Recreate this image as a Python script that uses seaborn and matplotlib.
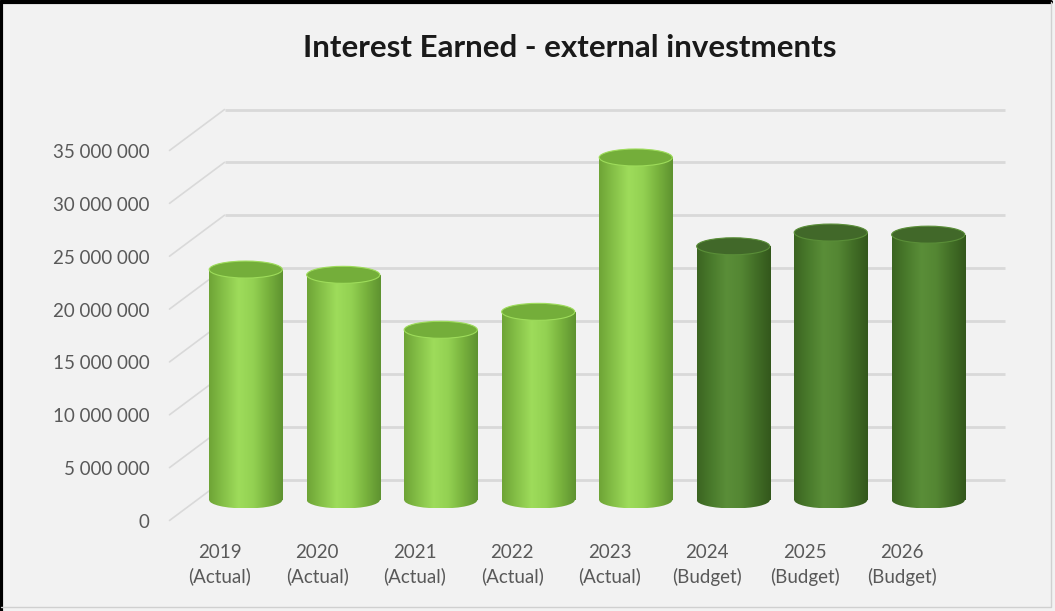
import numpy as np
import pandas as pd
import matplotlib
matplotlib.use("Agg")
import matplotlib.pyplot as plt
import seaborn as sns
from matplotlib.patches import Ellipse
from matplotlib.colors import LinearSegmentedColormap
from matplotlib.transforms import ScaledTranslation
from matplotlib.lines import Line2D

# ---- data ----
years = ["2019", "2020", "2021", "2022", "2023", "2024", "2025", "2026"]
kinds = ["Actual", "Actual", "Actual", "Actual", "Actual", "Budget", "Budget", "Budget"]
interest = [21_800_000, 21_300_000, 16_100_000, 17_800_000, 32_400_000,
            24_000_000, 25_300_000, 25_100_000]
y_ticks = [0, 5_000_000, 10_000_000, 15_000_000, 20_000_000,
           25_000_000, 30_000_000, 35_000_000]
title = "Interest Earned - external investments"

df = pd.DataFrame({"year": years, "kind": kinds, "value": interest})
df["label"] = df["year"] + "\n(" + df["kind"] + ")"

# ---- style ----
sns.set_theme(style="white")
plt.rcParams["font.family"] = ["Lato", "DejaVu Sans"]

BG = "#f2f2f2"
GRID = "#d9d9d9"
TXT = "#595959"

body_colors = {
    "Actual": ["#6ea436", "#86c148", "#9edc5b", "#93d152", "#78b23d", "#5e9230"],
    "Budget": ["#3b6421", "#4a7b2c", "#5a8e38", "#548633", "#426e26", "#33571c"],
}
top_colors = {"Actual": "#74ae3a", "Budget": "#416829"}
palette = {"Actual": "#92d050", "Budget": "#548235"}

W, H, DPI = 1055, 611, 100
fig = plt.figure(figsize=(W / DPI, H / DPI), dpi=DPI)
fig.patch.set_facecolor(BG)

# plot plane at the middle depth of the 3-D box
left_px, right_px, zero_px, top_px = 197, 977, 500, 130
pad_px = 16  # room below zero for the rounded bar bottoms
px_per_unit = (zero_px - top_px) / y_ticks[-1]
ymin = -pad_px / px_per_unit

ax = fig.add_axes([left_px / W, (H - zero_px - pad_px) / H,
                   (right_px - left_px) / W, (zero_px + pad_px - top_px) / H])
ax.set_facecolor("none")

sns.barplot(data=df, x="label", y="value", hue="kind", palette=palette,
            dodge=False, width=0.75, saturation=1, legend=False, ax=ax, zorder=3)

for s in ax.spines.values():
    s.set_visible(False)
ax.tick_params(left=False, bottom=False, labelleft=False, labelbottom=False)
ax.set_xlabel("")
ax.set_ylabel("")

# depth offsets for the back wall / front edge of the 3-D box
dx_px, dy_px = 27.5, 20.5
back = ScaledTranslation(dx_px / DPI, dy_px / DPI, fig.dpi_scale_trans)
front = ScaledTranslation(-dx_px / DPI, -dy_px / DPI, fig.dpi_scale_trans)
lab_off = ScaledTranslation(-(dx_px + 20) / DPI, -(dy_px + 2) / DPI,
                            fig.dpi_scale_trans)
ytrans = ax.get_yaxis_transform()


def finish_limits():
    ax.set_xlim(-0.5, len(years) - 0.5)
    ax.set_ylim(ymin, y_ticks[-1])


finish_limits()

for v in y_ticks:
    # gridline on the back wall
    ax.plot([0, 1], [v, v], transform=ytrans + back, color=GRID, lw=2.0,
            zorder=0, solid_capstyle="butt", clip_on=False)
    # side-wall diagonal from the front edge to the back wall
    ax.plot([0, 0], [v, v], transform=ytrans + front, lw=0, clip_on=False)
    p_front = (ytrans + front).transform((0, v))
    p_back = (ytrans + back).transform((0, v))
    fig.add_artist(Line2D([p_front[0] / W, p_back[0] / W],
                          [p_front[1] / H, p_back[1] / H],
                          transform=fig.transFigure, color=GRID, lw=1.2,
                          zorder=0))
    # value label at the front edge
    ax.text(0, v, f"{v:,}".replace(",", " "), transform=ytrans + lab_off,
            ha="right", va="center", fontsize=13.5, color=TXT, clip_on=False)

# category labels at the front edge
cat_off = ScaledTranslation(-26 / DPI, -44 / DPI, fig.dpi_scale_trans)
for i, lab in enumerate(df["label"]):
    ax.text(i, 0, lab, transform=ax.transData + cat_off, ha="center", va="top",
            fontsize=13.5, color=TXT, linespacing=1.45, clip_on=False)

# ellipse height of the cylinder caps, in data units
cap_h = 17 / px_per_unit

# turn each bar into a shaded cylinder
bars = [p for p in ax.patches if p.get_height() > 0]
grad = np.linspace(0, 1, 256).reshape(1, -1)
for bar, kind in zip(bars, df["kind"]):
    x0 = bar.get_x()
    w = bar.get_width()
    h = bar.get_height()
    cx = x0 + w / 2
    cmap = LinearSegmentedColormap.from_list(kind, body_colors[kind])

    bar.set_facecolor("none")
    bar.set_edgecolor("none")

    # body
    im = ax.imshow(grad, cmap=cmap, aspect="auto",
                   extent=(x0, x0 + w, 0, h), zorder=3, interpolation="bicubic")
    im.set_clip_path(bar)

    # rounded bottom
    bottom = Ellipse((cx, 0), w, cap_h, facecolor="none", edgecolor="none",
                     zorder=3)
    ax.add_patch(bottom)
    im2 = ax.imshow(grad, cmap=cmap, aspect="auto",
                    extent=(x0, x0 + w, -cap_h / 2, cap_h / 2), zorder=3,
                    interpolation="bicubic")
    im2.set_clip_path(bottom)

    # top cap
    ax.add_patch(Ellipse((cx, h), w, cap_h, facecolor=top_colors[kind],
                         edgecolor=body_colors[kind][2], lw=0.8, zorder=4))

finish_limits()

fig.text(570 / W, 1 - 48 / H, title, ha="center", va="center",
         fontsize=22.5, fontweight="bold", color="#1a1a1a")

# chart-area border
fig.add_artist(Line2D([0.5 / W, 0.5 / W, (W - 4) / W], [0, 1 - 1.5 / H, 1 - 1.5 / H],
                      transform=fig.transFigure, color="black", lw=3.0))
fig.add_artist(Line2D([(W - 4) / W, (W - 4) / W, 0.5 / W],
                      [1 - 1.5 / H, 4 / H, 4 / H],
                      transform=fig.transFigure, color="#d0d0d0", lw=1.0))

fig.savefig("out.png", dpi=DPI, facecolor=BG)
